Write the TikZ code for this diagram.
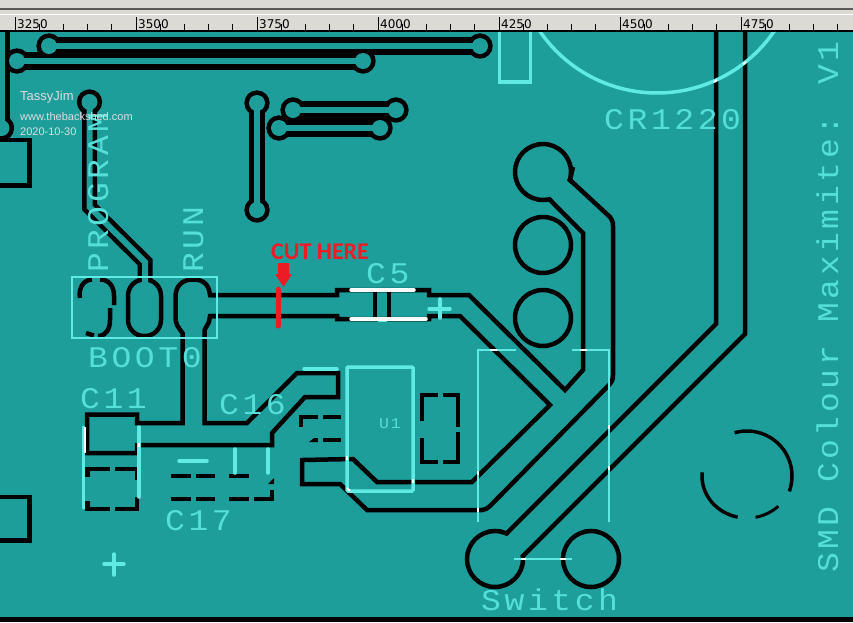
\documentclass[tikz,border=0pt]{standalone}
\usepackage{fontspec}
\usepackage{xcolor}
\usepackage{tikz}
\usetikzlibrary{calc}
\setmainfont{Liberation Sans}
\newfontfamily\silkfont[LetterSpace=12,FakeStretch=1.1]{Liberation Mono}
\newfontfamily\rulerfont{DejaVu Sans}
\newfontfamily\notefont{Carlito}
\definecolor{board}{HTML}{1E9E9B}
\definecolor{silk}{HTML}{5FEBE4}
\definecolor{rulergrey}{HTML}{DCDAD5}
\definecolor{cutred}{HTML}{ED1C24}
\definecolor{stamp}{HTML}{DDDDDD}
\begin{document}
\begin{tikzpicture}[x=1pt,y=-1pt,line join=miter]
	\tikzstyle{outline}=[draw=black, line width=4.5pt]
	\tikzstyle{trackblack}=[draw=black, line width=16pt]
	\tikzstyle{trackteal}=[draw=board, line width=6pt]
	\tikzstyle{gap}=[draw=board, line width=23pt]
	\tikzstyle{silkline}=[draw=silk, line width=3.5pt, line cap=round]
	\tikzstyle{silkthin}=[draw=silk, line width=2pt]
	\tikzstyle{overlap}=[draw=white, line width=3.5pt]
	\tikzstyle{silktext}=[silk!85!board, inner sep=0pt, anchor=base west, font=\silkfont\fontsize{30}{30}\selectfont]
	\tikzstyle{stamptext}=[stamp, inner sep=0pt, anchor=base west]
	\tikzstyle{rulertext}=[black, inner sep=0pt, anchor=base west, font=\rulerfont\fontsize{12}{12}\selectfont]
	\useasboundingbox (0,0) rectangle (853,622);
	\fill[board] (0,0) rectangle (853,622);

	\coordinate (viaTopA) at (49,46);
	\coordinate (viaTopB) at (480,46);
	\coordinate (viaSecA) at (17,61);
	\coordinate (viaSecB) at (363,61);
	\coordinate (viaEdge) at (1.5,128);
	\coordinate (edgeUp) at (1.5,28);
	\coordinate (viaProg) at (89.5,102);
	\coordinate (progBend) at (89.5,207);
	\coordinate (progDiag) at (145,262);
	\coordinate (progEnd) at (145,300);
	\coordinate (viaMidA) at (257,103);
	\coordinate (viaMidB) at (257,210);
	\coordinate (viaShortA) at (293,110);
	\coordinate (viaShortB) at (396,110);
	\coordinate (viaLowA) at (279,128);
	\coordinate (viaLowB) at (380,128);

	\path[trackblack, line width=18pt]
		(viaTopA) edge (viaTopB)
		(viaSecA) edge (viaSecB)
		(viaShortA) edge (viaShortB)
		(viaLowA) edge (viaLowB);
	\path[trackblack]
		(viaEdge) edge (edgeUp)
		(viaMidA) edge (viaMidB);
	\draw[trackblack, line width=15pt] (viaProg) -- (progBend) -- (progDiag) -- (progEnd);
	\foreach \via in {viaTopA,viaTopB,viaSecA,viaSecB,viaEdge,viaProg,viaMidA,viaMidB,viaShortA,viaShortB,viaLowA,viaLowB}
		\fill[black] (\via) circle (12.7);
	\draw[outline, fill=board, rounded corners=16pt] (128,279.5) rectangle (161,336);
	\path[trackteal]
		(viaTopA) edge (viaTopB)
		(viaSecA) edge (viaSecB)
		(viaEdge) edge (edgeUp)
		(viaMidA) edge (viaMidB)
		(viaShortA) edge (viaShortB)
		(viaLowA) edge (viaLowB);
	\draw[trackteal] (viaProg) -- (progBend) -- (progDiag) -- (progEnd);
	\foreach \via in {viaTopA,viaTopB,viaSecA,viaSecB,viaEdge,viaProg,viaMidA,viaMidB,viaShortA,viaShortB,viaLowA,viaLowB}
		\fill[board] (\via) circle (8);

	\draw[outline] (0,140) -- (29.5,140) -- (29.5,185.5) -- (0,185.5);
	\draw[outline] (0,497) -- (29.5,497) -- (29.5,540.5) -- (0,540.5);

	\coordinate (padOne) at (543,172);
	\coordinate (padTwo) at (543,245);
	\coordinate (padThree) at (543,318);
	\coordinate (padSwA) at (495,559);
	\coordinate (padSwB) at (591,559);
	\foreach \pad in {padOne,padTwo,padThree,padSwA,padSwB}
		\draw[outline] (\pad) circle (28);
	\draw[gap] (553,183) -- (590,220);
	\draw[gap] (502,557.5) -- (530,529.5);

	\draw[outline] (80,298) .. controls (78,288) and (84,279.5) .. (92,279.5);
	\draw[outline] (100,279.5) .. controls (108,279.5) and (114,285) .. (114,296) -- (114,305);
	\draw[outline] (110,308) -- (110,320) .. controls (110,329) and (106,336) .. (98,336);
	\draw[outline] (86,333) -- (94,335.5);

	\draw[outline] (217,295) -- (210,295) .. controls (209,284) and (203,279.5) .. (193,279.5)
		.. controls (182,279.5) and (175.5,286) .. (175.5,297) -- (175.5,318)
		.. controls (175.5,324) and (178,327) .. (182.5,333) -- (182.5,423) -- (137,423)
		-- (137,414.5) -- (87,414.5) -- (87,453) -- (137,453) -- (137,445) -- (272,445) -- (272,433)
		-- (305,397) -- (338,397) -- (338,373) -- (297,373) -- (247,423) -- (204.5,423) -- (204.5,330)
		-- (209,322) -- (210,316) -- (217,316);
	\draw[outline] (210,295) -- (337,295) -- (337,290) -- (429,290) -- (429,295) -- (469,295)
		-- (565,390) -- (583,370) -- (583,233) -- (550,200);
	\draw[outline] (210,316) -- (337,316) -- (337,319) -- (429,319) -- (429,316) -- (460,316)
		-- (550,405) -- (472,482) -- (377,482) -- (353,459) -- (302,460) -- (302,484) -- (340,484)
		-- (367,510) -- (482,510) .. controls (485,510) and (488,508) .. (490,506)
		-- (610,384) .. controls (612,382) and (613,379) .. (613,375) -- (613,226)
		.. controls (613,222) and (612,219) .. (610,217) -- (570,180) -- (573,167);
	\draw[outline] (507,533) -- (716,324) -- (716,28);
	\draw[outline] (522,557) -- (745,334) -- (745,28);
	\draw[outline] (375,290) -- (375,319);
	\draw[outline] (389,290) -- (389,319);

	\draw[outline] (87.3,477) -- (87.3,469) -- (110,469);
	\draw[outline] (115,469) -- (137,469) -- (137,480);
	\draw[outline] (87.3,501) -- (87.3,509) -- (110,509);
	\draw[outline] (115,509) -- (137,509) -- (137,497);
	\foreach \ya in {476,499}
		\foreach \xa/\xb in {171/191,196/215,229/249}
			\draw[outline] (\xa,\ya) -- (\xb,\ya);
	\draw[outline] (254,499) -- (272,499) -- (272,490);
	\fill[black] (268,484) -- (274,478) -- (274,484) -- cycle;
	\draw[outline] (301,427) -- (301,417) -- (318,417);
	\draw[outline] (323,417) -- (341,417);
	\draw[outline] (323,440) -- (341,440);
	\fill[black] (309,442) -- (314,438) -- (318,438) -- (318,442) -- cycle;
	\draw[outline] (422,421) -- (422,395) -- (438,395);
	\draw[outline] (443,395) -- (458,395) -- (458,427);
	\draw[outline] (422,438) -- (422,462) -- (438,462);
	\draw[outline] (443,462) -- (458,462) -- (458,432);

	\draw[black, line width=3.5pt] plot[domain=-106:20,samples=40] ({747+45*cos(\x)},{476+45*sin(\x)});
	\draw[black, line width=3.5pt] plot[domain=102:185,samples=30] ({747+45*cos(\x)},{476+42*sin(\x)});
	\draw[black, line width=3pt] plot[domain=46:79,samples=15] ({747+45*cos(\x)},{476+42*sin(\x)});

	\draw[silkthin] (72,277) rectangle (217,338);
	\draw[silkthin] (516,350) -- (478,350) -- (478,522);
	\draw[silkthin] (572,350) -- (609,350) -- (609,522);
	\draw[silkthin] (514,559) -- (572,559);
	\draw[silkline, rounded corners=1pt] (347,367) rectangle (413,491);
	\draw[silkline] (304,369) -- (337,369);
	\draw[silkline] (83.5,427) -- (83.5,508);
	\draw[silkline] (139,427) -- (139,497);
	\draw[silkline] (179,461) -- (207,461);
	\draw[silkline] (235,449) -- (235,473);
	\draw[silkline] (268,449) -- (268,473);
	\draw[silkline] (104,564) -- (124,564);
	\draw[silkline] (114,554) -- (114,575);
	\draw[silkline] (429,309) -- (450,309);
	\draw[silkline] (440,299) -- (440,318);
	\fill[silk] (378,288) rectangle (387,292);
	\fill[silk] (378,318) rectangle (387,322);
	\draw[silkline, line cap=butt] (499.5,31) -- (499.5,82) -- (530.5,82) -- (530.5,31);
	\draw[silk, line width=3.5pt] plot[domain=30:150,samples=60] ({657+142*cos(\x)},{-49+142*sin(\x)});

	\draw[overlap, line cap=round] (351,290) -- (414,290);
	\draw[overlap, line cap=round] (351,319) -- (426,319);
	\draw[overlap, line width=2pt] (85,427) -- (85,453);
	\foreach \xa/\ya/\xb/\yb in {139/443/139/447,609/425/609/429,609/466/609/470,478/471/478/475,478/508/478/512,490/350/497/350,580/350/587/350,521/559/526/559,560/559/566/559,347/456/347/460,347/488/350/491,413/479/413/483,714/82/717/80,743/64/746/62}
		\draw[overlap, line width=2pt] (\xa,\ya) -- (\xb,\yb);

	\node[silktext] (bootlabel) at (88,367) {BOOT0};
	\node[silktext] (celevenlabel) at (80,408) {C11};
	\node[silktext] (csixteenlabel) at (219,414) {C16};
	\node[silktext] (csevenlabel) at (165,530) {C17};
	\node[silktext] (cfivelabel) at (366,283) {C5};
	\node[silktext] (coinlabel) at (604,129) {CR1220};
	\node[silktext] (switchlabel) at (481,610) {Switch};
	\node[silktext, font=\silkfont\fontsize{15}{15}\selectfont] (uonelabel) at (379,428) {U1};
	\node[silktext, rotate=90] (proglabel) at (108,273) {PROGRAM};
	\node[silktext, rotate=90] (runlabel) at (203,273) {RUN};
	\node[silktext, rotate=90] (boardlabel) at (838,573) {SMD Colour Maximite: V1};

	\node[stamptext, font=\fontsize{13}{13}\selectfont] (stampname) at (20,100) {TassyJim};
	\node[stamptext, font=\fontsize{11}{11}\selectfont] (stampsite) at (20,120) {www.thebackshed.com};
	\node[stamptext, font=\fontsize{11}{11}\selectfont] (stampdate) at (20,135) {2020-10-30};

	\node[cutred, inner sep=0pt, anchor=base west, font=\notefont\bfseries\fontsize{24}{24}\selectfont] (cutlabel) at (271,259) {CUT HERE};
	\fill[cutred] (278,263) -- (289,263) -- (289,274) -- (292,274) -- (283.5,287) -- (275,274) -- (278,274) -- cycle;
	\draw[cutred, line width=5pt, line cap=round] (278,289) -- (278,326);

	\fill[black] (0,617) rectangle (853,622);
	\fill[rulergrey] (0,0) rectangle (853,30);
	\fill[black!65] (0,8) rectangle (853,9.5);
	\fill[white] (0,14) rectangle (853,15);
	\fill[black] (0,30) rectangle (853,31.5);
	\foreach \k in {0,...,34}
		\draw[black, line width=1pt] ({15+24.2*\k},24) -- ({15+24.2*\k},30);
	\foreach \k/\val in {0/3250,1/3500,2/3750,3/4000,4/4250,5/4500,6/4750} {
		\draw[black, line width=1pt] ({15+121*\k},17) -- ({15+121*\k},30);
		\node[rulertext] (tick\val) at ({17+121*\k},28.5) {\val};
	}
\end{tikzpicture}
\end{document}
